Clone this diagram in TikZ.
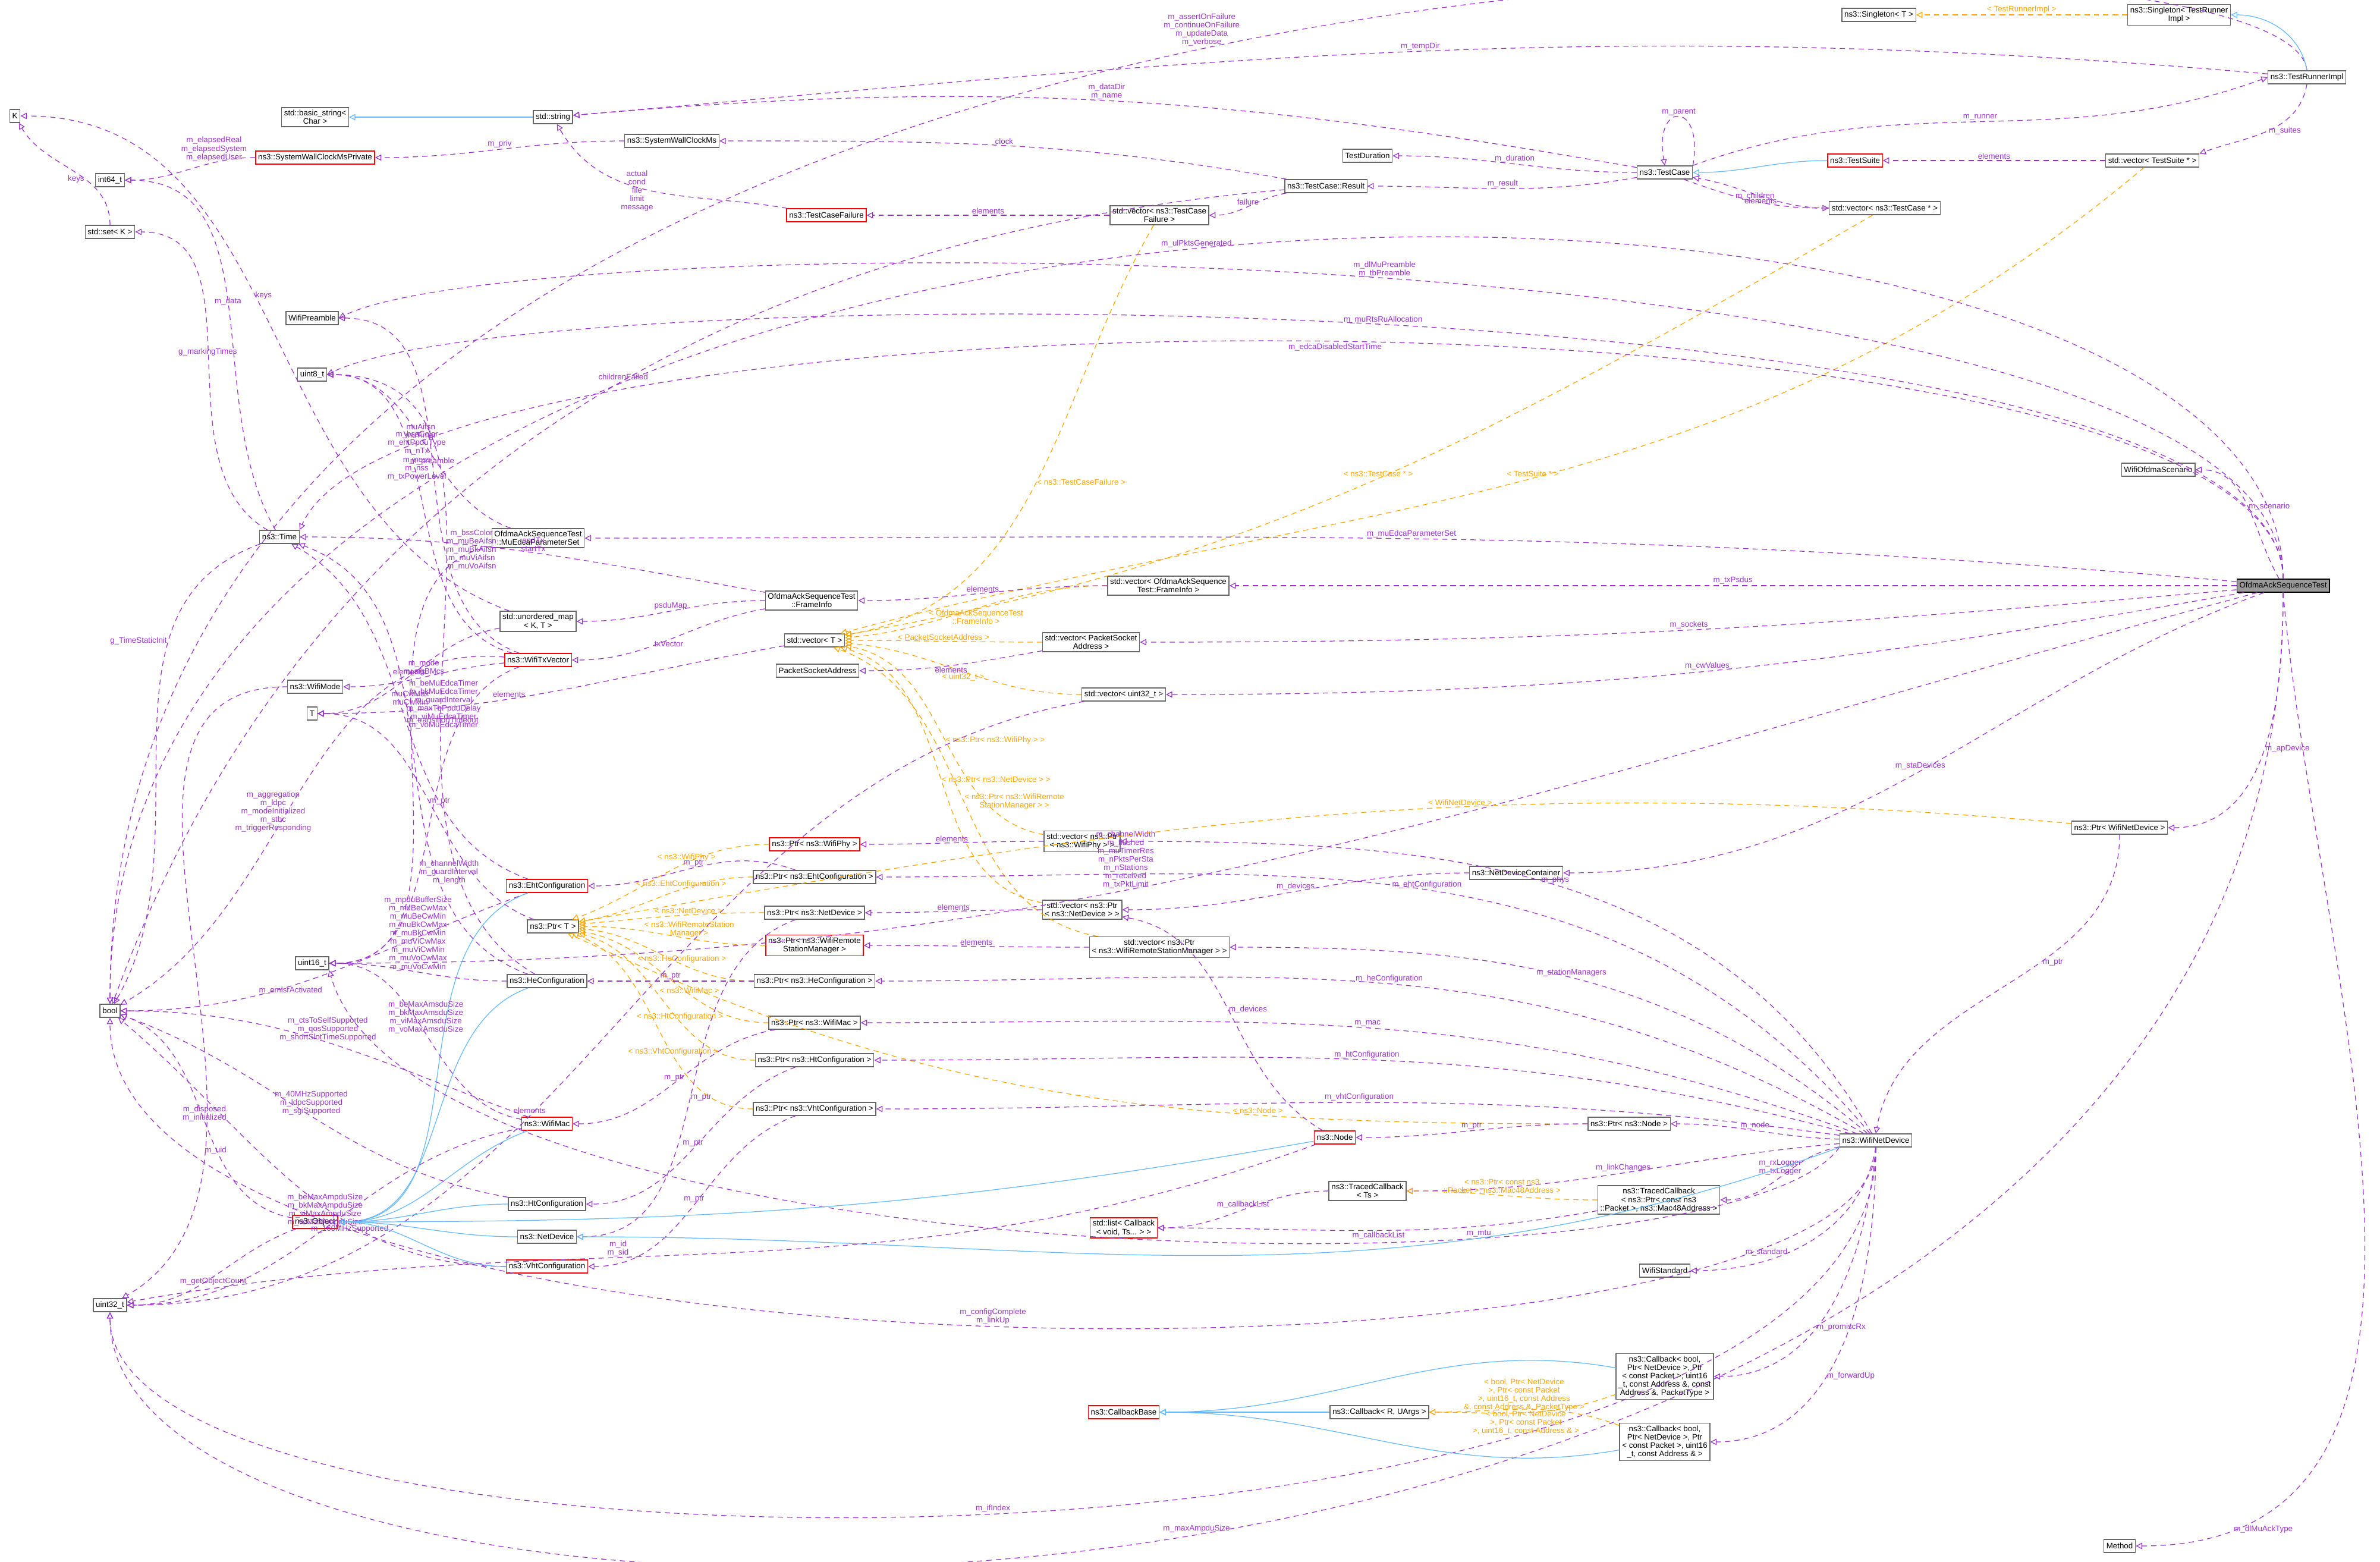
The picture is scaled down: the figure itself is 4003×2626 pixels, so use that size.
\documentclass[tikz,border=0pt]{standalone}
\usepackage{fontspec}
\setmainfont{Liberation Sans}
\usetikzlibrary{arrows.meta}
\definecolor{memColor}{HTML}{9A32CD}
\definecolor{inhColor}{HTML}{63B8FF}
\definecolor{tplColor}{HTML}{FFA500}
\tikzset{
	cls/.style={rectangle, draw=black!60, fill=white, inner sep=1.2pt, minimum height=0.22cm, align=center, font=\fontsize{3.8}{4}\selectfont},
	redCls/.style={cls, draw=red},
	mainCls/.style={cls, draw=black, fill=black!40},
	lbl/.style={font=\fontsize{3.8}{4}\selectfont, align=center, inner sep=0.5pt},
	mem/.style={memColor, line width=0.35pt, dash pattern=on 2.5pt off 2pt, -{Triangle[open,length=3pt,width=3pt]}},
	tpl/.style={tplColor, line width=0.35pt, dash pattern=on 2.5pt off 2pt, -{Triangle[open,length=3pt,width=3pt]}},
	inh/.style={inhColor, line width=0.35pt, -{Triangle[open,length=3pt,width=3pt]}}
}
\begin{document}
\begin{tikzpicture}[x=0.01cm, y=-0.01cm]
	\useasboundingbox (0,0) rectangle (4003,2626);

	% left column
	\node[cls](kT) at (25,195){K};
	\node[cls](int64T) at (185,303){int64\_t};
	\node[cls](stdSetK) at (185,390){std::set< K >};
	\node[cls](boolT) at (185,1700){bool};
	\node[cls](uint32T) at (185,2195){uint32\_t};

	% strings and clocks
	\node[cls](basicString) at (530,197){std::basic\_string<\\Char >};
	\node[cls](stdString) at (930,197){std::string};
	\node[redCls](swcmPrivate) at (530,265){ns3::SystemWallClockMsPrivate};
	\node[cls](swcm) at (1130,237){ns3::SystemWallClockMs};

	% test framework
	\node[cls](testDuration) at (2300,262){TestDuration};
	\node[cls](testCaseResult) at (2230,313){ns3::TestCase::Result};
	\node[cls](testCase) at (2800,290){ns3::TestCase};
	\node[redCls](testSuite) at (3120,270){ns3::TestSuite};
	\node[cls](vecTestSuite) at (3620,270){std::vector< TestSuite * >};
	\node[cls](singletonT) at (3160,25){ns3::Singleton< T >};
	\node[cls](singletonRunner) at (3665,25){ns3::Singleton< TestRunner\\Impl >};
	\node[cls](testRunnerImpl) at (3880,130){ns3::TestRunnerImpl};
	\node[cls](vecTestCase) at (3170,350){std::vector< ns3::TestCase * >};
	\node[redCls](testCaseFailure) at (1390,362){ns3::TestCaseFailure};
	\node[cls](vecFailure) at (1950,362){std::vector< ns3::TestCase\\Failure >};

	% middle types
	\node[cls](wifiPreamble) at (525,535){WifiPreamble};
	\node[cls](uint8T) at (525,630){uint8\_t};
	\node[cls](timeT) at (470,903){ns3::Time};
	\node[cls](muEdcaSet) at (905,905){OfdmaAckSequenceTest\\::MuEdcaParameterSet};
	\node[cls](frameInfo) at (1365,1010){OfdmaAckSequenceTest\\::FrameInfo};
	\node[cls](vecFrameInfo) at (1965,985){std::vector< OfdmaAckSequence\\Test::FrameInfo >};
	\node[cls](unorderedMap) at (905,1045){std::unordered\_map\\< K, T >};
	\node[redCls](wifiTxVector) at (905,1110){ns3::WifiTxVector};
	\node[cls](vecT) at (1370,1077){std::vector< T >};
	\node[cls](vecSocket) at (1835,1080){std::vector< PacketSocket\\Address >};
	\node[cls](socketAddr) at (1375,1128){PacketSocketAddress};
	\node[cls](vecUint32) at (1890,1168){std::vector< uint32\_t >};
	\node[cls](wifiMode) at (530,1155){ns3::WifiMode};
	\node[cls](tT) at (525,1200){T};
	\node[cls](ofdmaScenario) at (3630,790){WifiOfdmaScenario};
	\node[mainCls](ofdmaTest) at (3840,985){OfdmaAckSequenceTest};

	% configurations and pointers
	\node[redCls](ehtConfig) at (920,1490){ns3::EhtConfiguration};
	\node[cls](ptrT) at (930,1558){ns3::Ptr< T >};
	\node[cls](uint16T) at (525,1620){uint16\_t};
	\node[cls](heConfig) at (920,1650){ns3::HeConfiguration};
	\node[redCls](ptrPhy) at (1370,1420){ns3::Ptr< ns3::WifiPhy >};
	\node[cls](vecPhy) at (1820,1415){std::vector< ns3::Ptr\\< ns3::WifiPhy > >};
	\node[cls](ptrEht) at (1370,1475){ns3::Ptr< ns3::EhtConfiguration >};
	\node[cls](ptrNetDev) at (1370,1535){ns3::Ptr< ns3::NetDevice >};
	\node[redCls](ptrStation) at (1370,1590){ns3::Ptr< ns3::WifiRemote\\StationManager >};
	\node[cls](vecNetDev) at (1820,1530){std::vector< ns3::Ptr\\< ns3::NetDevice > >};
	\node[cls](vecStation) at (1950,1593){std::vector< ns3::Ptr\\< ns3::WifiRemoteStationManager > >};
	\node[cls](ptrHe) at (1370,1650){ns3::Ptr< ns3::HeConfiguration >};
	\node[cls](ptrMac) at (1370,1720){ns3::Ptr< ns3::WifiMac >};
	\node[cls](ptrHt) at (1370,1783){ns3::Ptr< ns3::HtConfiguration >};
	\node[cls](ptrVht) at (1370,1865){ns3::Ptr< ns3::VhtConfiguration >};
	\node[cls](devContainer) at (2550,1468){ns3::NetDeviceContainer};
	\node[cls](ptrWifiDev) at (3565,1392){ns3::Ptr< WifiNetDevice >};
	\node[redCls](wifiMac) at (920,1890){ns3::WifiMac};
	\node[redCls](objectT) at (530,2055){ns3::Object};
	\node[cls](htConfig) at (920,2025){ns3::HtConfiguration};
	\node[cls](netDevice) at (920,2080){ns3::NetDevice};
	\node[redCls](vhtConfig) at (920,2130){ns3::VhtConfiguration};
	\node[redCls](nodeT) at (2245,1913){ns3::Node};
	\node[cls](ptrNode) at (2740,1890){ns3::Ptr< ns3::Node >};
	\node[cls](wifiNetDev) at (3155,1918){ns3::WifiNetDevice};

	% callbacks
	\node[cls](tracedTs) at (2300,2003){ns3::TracedCallback\\< Ts >};
	\node[cls](tracedPkt) at (2790,2018){ns3::TracedCallback\\< ns3::Ptr< const ns3\\::Packet >, ns3::Mac48Address >};
	\node[redCls](cbList) at (1890,2065){std::list< Callback\\< void, Ts... > >};
	\node[cls](wifiStandard) at (2800,2137){WifiStandard};
	\node[redCls](cbBase) at (1890,2375){ns3::CallbackBase};
	\node[cls](cbGeneric) at (2320,2375){ns3::Callback< R, UArgs >};
	\node[cls](cbPromisc) at (2800,2315){ns3::Callback< bool,\\Ptr< NetDevice >, Ptr\\< const Packet >, uint16\\\_t, const Address \&, const\\Address \&, PacketType >};
	\node[cls](cbForward) at (2800,2425){ns3::Callback< bool,\\Ptr< NetDevice >, Ptr\\< const Packet >, uint16\\\_t, const Address \& >};
	\node[cls](methodT) at (3565,2600){Method};

	% test framework edges
	\draw[mem] (testRunnerImpl.north) .. controls (3850,-190) and (185,-190) .. node[lbl, pos=0.5, above=1pt]{m\_assertOnFailure\\m\_continueOnFailure\\m\_updateData\\m\_verbose} (boolT.north);
	\draw[mem] (testRunnerImpl) to[out=175,in=5] node[lbl, above]{m\_tempDir} (stdString);
	\draw[mem] (testRunnerImpl.south) to[out=-100,in=20] node[lbl, right]{m\_suites} (vecTestSuite.north east);
	\draw[inh] (testRunnerImpl.north) to[out=100,in=0] (singletonRunner);
	\draw[tpl] (singletonRunner) to[out=180,in=0] node[lbl, above]{< TestRunnerImpl >} (singletonT);
	\draw[mem] (testCase.north east) to[out=20,in=200] node[lbl, above]{m\_runner} (testRunnerImpl.west);
	\draw[mem] (testCase) to[out=170,in=5] node[lbl, above]{m\_dataDir\\m\_name} (stdString);
	\draw[mem] (testCase) to[out=180,in=0] node[lbl, above]{m\_duration} (testDuration);
	\draw[mem] (testCase) to[out=190,in=0] node[lbl, above]{m\_result} (testCaseResult);
	\draw[mem] (testCase.north east) to[out=80,in=100,looseness=6] node[lbl, above]{m\_parent} (testCase.north);
	\draw[mem] (testCase) to[out=-20,in=180] node[lbl, above]{m\_children} (vecTestCase);
	\draw[mem] (vecTestCase) to[out=180,in=-10] node[lbl, below]{elements} (testCase);
	\draw[inh] (testSuite) to[out=180,in=0] (testCase);
	\draw[mem] (vecTestSuite) to[out=180,in=0] node[lbl, above]{elements} (testSuite);
	\draw[mem] (testCaseResult) to[out=170,in=0] node[lbl, above]{clock} (swcm);
	\draw[mem] (testCaseResult) to[out=190,in=0] node[lbl, above]{failure} (vecFailure);
	\draw[mem] (testCaseResult) to[out=185,in=70] node[lbl, pos=0.45, above]{childrenFailed} (boolT);
	\draw[mem] (vecFailure) to[out=180,in=0] node[lbl, above]{elements} (testCaseFailure);
	\draw[mem] (testCaseFailure) to[out=170,in=-60] node[lbl, left]{actual\\cond\\file\\limit\\message} (stdString);
	\draw[inh] (stdString) to[out=180,in=0] (basicString);
	\draw[mem] (swcm) to[out=180,in=0] node[lbl, above]{m\_priv} (swcmPrivate);
	\draw[mem] (swcmPrivate) to[out=180,in=0] node[lbl, pos=0.3, above]{m\_elapsedReal\\m\_elapsedSystem\\m\_elapsedUser} (int64T);
	\draw[mem] (stdSetK.north) to[out=90,in=-60] node[lbl, pos=0.4, left]{keys} (kT);

	% template instances of std::vector
	\draw[tpl] (vecFailure) to[out=-120,in=10] node[lbl, pos=0.5, right]{< ns3::TestCaseFailure >} (vecT);
	\draw[tpl] (vecTestCase) to[out=-150,in=10] node[lbl, pos=0.5, above]{< ns3::TestCase * >} (vecT);
	\draw[tpl] (vecTestSuite) to[out=-140,in=15] node[lbl, pos=0.5, above]{< TestSuite * >} (vecT);
	\draw[tpl] (vecFrameInfo) to[out=180,in=5] node[lbl, below]{< OfdmaAckSequenceTest\\::FrameInfo >} (vecT);
	\draw[tpl] (vecSocket) to[out=180,in=0] node[lbl, above]{< PacketSocketAddress >} (vecT);
	\draw[tpl] (vecUint32) to[out=180,in=-5] node[lbl, below]{< uint32\_t >} (vecT);
	\draw[tpl] (vecPhy) to[out=170,in=-10] node[lbl, pos=0.5, right]{< ns3::Ptr< ns3::WifiPhy > >} (vecT);
	\draw[tpl] (vecNetDev) to[out=170,in=-15] node[lbl, pos=0.5, right]{< ns3::Ptr< ns3::NetDevice > >} (vecT);
	\draw[tpl] (vecStation) to[out=170,in=-20] node[lbl, pos=0.5, right]{< ns3::Ptr< ns3::WifiRemote\\StationManager > >} (vecT);

	% OfdmaAckSequenceTest edges
	\draw[mem] (ofdmaTest.north) .. controls (3840,115) and (185,115) .. node[lbl, above]{m\_ulPktsGenerated} (boolT.north);
	\draw[mem] (ofdmaTest.north) .. controls (3840,373) and (900,373) .. node[lbl, above]{m\_dlMuPreamble\\m\_tbPreamble} (wifiPreamble.east);
	\draw[mem] (ofdmaTest.north) .. controls (3840,461) and (900,461) .. node[lbl, above]{m\_muRtsRuAllocation} (uint8T.east);
	\draw[mem] (ofdmaTest.north) .. controls (3840,456) and (700,456) .. node[lbl, below]{m\_edcaDisabledStartTime} (timeT.north east);
	\draw[mem] (ofdmaTest) to[out=120,in=0] node[lbl, right]{m\_scenario} (ofdmaScenario);
	\draw[mem] (ofdmaTest) to[out=175,in=0] node[lbl, above]{m\_muEdcaParameterSet} (muEdcaSet);
	\draw[mem] (ofdmaTest) to[out=180,in=0] node[lbl, above]{m\_txPsdus} (vecFrameInfo);
	\draw[mem] (ofdmaTest) to[out=185,in=0] node[lbl, above]{m\_sockets} (vecSocket);
	\draw[mem] (ofdmaTest) to[out=190,in=0] node[lbl, above]{m\_cwValues} (vecUint32);
	\draw[mem] (ofdmaTest) to[out=195,in=0] node[lbl, pos=0.6, above]{m\_channelWidth\\m\_flushed\\m\_muTimerRes\\m\_nPktsPerSta\\m\_nStations\\m\_received\\m\_txPktLimit} (uint16T);
	\draw[mem] (ofdmaTest) to[out=200,in=0] node[lbl, above]{m\_staDevices} (devContainer);
	\draw[mem] (ofdmaTest.south) to[out=-90,in=0] node[lbl, right]{m\_apDevice} (ptrWifiDev);
	\draw[mem] (ofdmaTest.south) .. controls (3840,2906) and (185,2906) .. node[lbl, above]{m\_maxAmpduSize} (uint32T.south);
	\draw[mem] (ofdmaTest.south) to[out=-85,in=0] node[lbl, pos=0.9, right]{m\_dlMuAckType} (methodT);

	% frame info and tx vector
	\draw[mem] (vecFrameInfo) to[out=180,in=0] node[lbl, above]{elements} (frameInfo);
	\draw[mem] (frameInfo) to[out=170,in=0] node[lbl, above]{endTx\\startTx} (timeT);
	\draw[mem] (frameInfo) to[out=180,in=0] node[lbl, above]{psduMap} (unorderedMap);
	\draw[mem] (frameInfo) to[out=190,in=0] node[lbl, below]{txVector} (wifiTxVector);
	\draw[mem] (vecSocket) to[out=190,in=0] node[lbl, below]{elements} (socketAddr);
	\draw[mem] (vecUint32) to[out=190,in=0] node[lbl, pos=0.6, above]{elements} (uint32T);
	\draw[mem] (vecT) to[out=190,in=0] node[lbl, pos=0.6, above]{elements} (tT);
	\draw[mem] (unorderedMap) to[out=190,in=0] node[lbl, above]{elements} (tT);
	\draw[mem] (unorderedMap) to[out=160,in=0] node[lbl, pos=0.55, right]{keys} (kT);
	\draw[mem] (muEdcaSet) to[out=160,in=0] node[lbl, above]{muAifsn\\muTimer} (uint8T);
	\draw[mem] (muEdcaSet) to[out=190,in=0] node[lbl, pos=0.4, above]{muCwMax\\muCwMin} (uint16T);
	\draw[mem] (wifiTxVector) to[out=160,in=0] node[lbl, pos=0.5, above]{m\_preamble} (wifiPreamble);
	\draw[mem] (wifiTxVector) to[out=165,in=0] node[lbl, pos=0.55, above]{m\_bssColor\\m\_ehtPpduType\\m\_nTx\\m\_ness\\m\_nss\\m\_txPowerLevel} (uint8T);
	\draw[mem] (wifiTxVector) to[out=185,in=0] node[lbl, above]{m\_mode\\m\_sigBMcs} (wifiMode);
	\draw[mem] (wifiTxVector) to[out=175,in=30] node[lbl, pos=0.6, above]{m\_aggregation\\m\_ldpc\\m\_modeInitialized\\m\_stbc\\m\_triggerResponding} (boolT);
	\draw[mem] (wifiTxVector) to[out=200,in=0] node[lbl, pos=0.6, right]{m\_channelWidth\\m\_guardInterval\\m\_length} (uint16T);
	\draw[mem] (wifiMode) to[out=180,in=30] node[lbl, pos=0.75, right]{m\_uid} (uint32T);
	\draw[mem] (timeT) to[out=150,in=0] node[lbl, pos=0.5, above]{g\_markingTimes} (stdSetK);
	\draw[mem] (timeT) to[out=120,in=0] node[lbl, pos=0.5, above]{m\_data} (int64T);
	\draw[mem] (timeT) to[out=200,in=60] node[lbl, pos=0.3, left]{g\_TimeStaticInit} (boolT);

	% configurations
	\draw[mem] (ehtConfig) to[out=160,in=-30] node[lbl, pos=0.5, right]{m\_transitionTimeout} (timeT);
	\draw[mem] (ehtConfig) to[out=200,in=0] node[lbl, pos=0.6, below]{m\_emlsrActivated} (boolT);
	\draw[inh] (ehtConfig) to[out=200,in=0] (objectT);
	\draw[mem] (heConfig) to[out=150,in=0] node[lbl, pos=0.6, right]{m\_bssColor\\m\_muBeAifsn\\m\_muBkAifsn\\m\_muViAifsn\\m\_muVoAifsn} (uint8T);
	\draw[mem] (heConfig) to[out=160,in=-20] node[lbl, pos=0.6, right]{m\_beMuEdcaTimer\\m\_bkMuEdcaTimer\\m\_guardInterval\\m\_maxTbPpduDelay\\m\_viMuEdcaTimer\\m\_voMuEdcaTimer} (timeT);
	\draw[mem] (heConfig) to[out=180,in=0] node[lbl, pos=0.5, above]{m\_mpduBufferSize\\m\_muBeCwMax\\m\_muBeCwMin\\m\_muBkCwMax\\m\_muBkCwMin\\m\_muViCwMax\\m\_muViCwMin\\m\_muVoCwMax\\m\_muVoCwMin} (uint16T);
	\draw[inh] (heConfig) to[out=200,in=0] (objectT);
	\draw[mem] (ptrT) to[out=160,in=0] node[lbl, pos=0.5, right]{m\_ptr} (tT);
	\draw[mem] (wifiMac) to[out=160,in=0] node[lbl, pos=0.5, above]{m\_ctsToSelfSupported\\m\_qosSupported\\m\_shortSlotTimeSupported} (boolT);
	\draw[mem] (wifiMac) to[out=170,in=0] node[lbl, pos=0.5, above]{m\_beMaxAmsduSize\\m\_bkMaxAmsduSize\\m\_viMaxAmsduSize\\m\_voMaxAmsduSize} (uint16T);
	\draw[mem] (wifiMac) to[out=190,in=0] node[lbl, pos=0.5, above]{m\_beMaxAmpduSize\\m\_bkMaxAmpduSize\\m\_viMaxAmpduSize\\m\_voMaxAmpduSize} (uint32T);
	\draw[inh] (wifiMac) to[out=200,in=0] (objectT);
	\draw[mem] (htConfig) to[out=170,in=-20] node[lbl, pos=0.5, above]{m\_40MHzSupported\\m\_ldpcSupported\\m\_sgiSupported} (boolT);
	\draw[inh] (htConfig) to[out=180,in=0] (objectT);
	\draw[inh] (netDevice) to[out=180,in=0] (objectT);
	\draw[mem] (vhtConfig) to[out=180,in=-40] node[lbl, pos=0.35, below]{m\_160MHzSupported} (boolT);
	\draw[inh] (vhtConfig) to[out=180,in=0] (objectT);
	\draw[mem] (objectT) to[out=170,in=-20] node[lbl, pos=0.5, above]{m\_disposed\\m\_initialized} (boolT);
	\draw[mem] (objectT) to[out=200,in=0] node[lbl, pos=0.5, below]{m\_getObjectCount} (uint32T);

	% ns3::Ptr instances
	\draw[tpl] (ptrWifiDev) to[out=175,in=10] node[lbl, pos=0.4, above]{< WifiNetDevice >} (ptrT);
	\draw[tpl] (ptrPhy) to[out=180,in=20] node[lbl, pos=0.4, above]{< ns3::WifiPhy >} (ptrT);
	\draw[tpl] (ptrEht) to[out=180,in=10] node[lbl, pos=0.4, above]{< ns3::EhtConfiguration >} (ptrT);
	\draw[tpl] (ptrNetDev) to[out=180,in=5] node[lbl, pos=0.4, above]{< ns3::NetDevice >} (ptrT);
	\draw[tpl] (ptrStation) to[out=180,in=0] node[lbl, pos=0.4, above]{< ns3::WifiRemoteStation\\Manager >} (ptrT);
	\draw[tpl] (ptrHe) to[out=180,in=-5] node[lbl, pos=0.4, above]{< ns3::HeConfiguration >} (ptrT);
	\draw[tpl] (ptrMac) to[out=180,in=-10] node[lbl, pos=0.4, above]{< ns3::WifiMac >} (ptrT);
	\draw[tpl] (ptrHt) to[out=180,in=-15] node[lbl, pos=0.4, above]{< ns3::HtConfiguration >} (ptrT);
	\draw[tpl] (ptrVht) to[out=180,in=-20] node[lbl, pos=0.4, above]{< ns3::VhtConfiguration >} (ptrT);
	\draw[tpl] (ptrNode) to[out=180,in=-25] node[lbl, pos=0.3, above]{< ns3::Node >} (ptrT);
	\draw[mem] (ptrEht) to[out=160,in=0] node[lbl, pos=0.5, above]{m\_ptr} (ehtConfig);
	\draw[mem] (ptrNetDev) to[out=200,in=0] node[lbl, pos=0.5, right]{m\_ptr} (netDevice);
	\draw[mem] (ptrHe) to[out=180,in=0] node[lbl, pos=0.5, above]{m\_ptr} (heConfig);
	\draw[mem] (ptrMac) to[out=190,in=0] node[lbl, pos=0.5, above]{m\_ptr} (wifiMac);
	\draw[mem] (ptrHt) to[out=200,in=0] node[lbl, pos=0.5, above]{m\_ptr} (htConfig);
	\draw[mem] (ptrVht) to[out=200,in=0] node[lbl, pos=0.5, above]{m\_ptr} (vhtConfig);
	\draw[mem] (vecPhy) to[out=180,in=0] node[lbl, above]{elements} (ptrPhy);
	\draw[mem] (vecNetDev) to[out=180,in=0] node[lbl, above]{elements} (ptrNetDev);
	\draw[mem] (vecStation) to[out=180,in=0] node[lbl, above]{elements} (ptrStation);
	\draw[mem] (devContainer) to[out=180,in=0] node[lbl, above]{m\_devices} (vecNetDev);
	\draw[mem] (ptrWifiDev.south) to[out=-90,in=80] node[lbl, pos=0.4, right]{m\_ptr} (wifiNetDev.north);

	% WifiNetDevice edges
	\draw[mem] (wifiNetDev) to[out=120,in=0] node[lbl, pos=0.5, above]{m\_phys} (vecPhy);
	\draw[mem] (wifiNetDev) to[out=130,in=0] node[lbl, pos=0.5, above]{m\_ehtConfiguration} (ptrEht);
	\draw[mem] (wifiNetDev) to[out=140,in=0] node[lbl, pos=0.5, above]{m\_stationManagers} (vecStation);
	\draw[mem] (wifiNetDev) to[out=150,in=0] node[lbl, pos=0.5, above]{m\_heConfiguration} (ptrHe);
	\draw[mem] (wifiNetDev) to[out=160,in=0] node[lbl, pos=0.5, above]{m\_mac} (ptrMac);
	\draw[mem] (wifiNetDev) to[out=165,in=0] node[lbl, pos=0.5, above]{m\_htConfiguration} (ptrHt);
	\draw[mem] (wifiNetDev) to[out=172,in=0] node[lbl, pos=0.5, above]{m\_vhtConfiguration} (ptrVht);
	\draw[mem] (wifiNetDev) to[out=178,in=0] node[lbl, above]{m\_node} (ptrNode);
	\draw[mem] (wifiNetDev) to[out=185,in=0] node[lbl, pos=0.5, above]{m\_linkChanges} (tracedTs);
	\draw[mem] (wifiNetDev) to[out=190,in=0] node[lbl, above]{m\_rxLogger\\m\_txLogger} (tracedPkt);
	\draw[mem] (wifiNetDev.south west) .. controls (2900,2200) and (700,2150) .. node[lbl, pos=0.3, above]{m\_mtu} (uint16T.south east);
	\draw[mem] (wifiNetDev.south) to[out=-100,in=0] node[lbl, pos=0.6, left]{m\_standard} (wifiStandard);
	\draw[mem] (wifiNetDev.south) to[out=-95,in=0] node[lbl, pos=0.6, right]{m\_promiscRx} (cbPromisc);
	\draw[mem] (wifiNetDev.south) to[out=-90,in=0] node[lbl, pos=0.6, right]{m\_forwardUp} (cbForward);
	\draw[mem] (wifiNetDev.south) .. controls (3155,2366) and (185,2366) .. node[lbl, pos=0.5, above]{m\_configComplete\\m\_linkUp} (boolT.south);
	\draw[mem] (wifiNetDev.south) .. controls (3155,2704) and (185,2704) .. node[lbl, pos=0.5, above]{m\_ifIndex} (uint32T.south);
	\draw[inh] (wifiNetDev.south west) to[out=200,in=0] (netDevice);
	\draw[mem] (ptrNode) to[out=180,in=0] node[lbl, above]{m\_ptr} (nodeT);
	\draw[mem] (nodeT) to[out=150,in=-10] node[lbl, pos=0.5, right]{m\_devices} (vecNetDev);
	\draw[mem] (nodeT) to[out=200,in=10] node[lbl, pos=0.6, above]{m\_id\\m\_sid} (uint32T);
	\draw[inh] (nodeT) to[out=190,in=0] (objectT);

	% callback edges
	\draw[mem] (tracedTs) to[out=180,in=0] node[lbl, above]{m\_callbackList} (cbList);
	\draw[mem] (tracedPkt) to[out=190,in=0] node[lbl, below]{m\_callbackList} (cbList);
	\draw[tpl] (tracedPkt) to[out=180,in=0] node[lbl, above]{< ns3::Ptr< const ns3\\::Packet >, ns3::Mac48Address >} (tracedTs);
	\draw[inh] (cbGeneric) to[out=180,in=0] (cbBase);
	\draw[inh] (cbPromisc) to[out=170,in=0] (cbBase);
	\draw[inh] (cbForward) to[out=190,in=0] (cbBase);
	\draw[tpl] (cbPromisc) to[out=200,in=0] node[lbl, above]{< bool, Ptr< NetDevice\\>, Ptr< const Packet\\>, uint16\_t, const Address\\\&, const Address \&, PacketType >} (cbGeneric);
	\draw[tpl] (cbForward) to[out=160,in=0] node[lbl, below]{< bool, Ptr< NetDevice\\>, Ptr< const Packet\\>, uint16\_t, const Address \& >} (cbGeneric);
\end{tikzpicture}
\end{document}
